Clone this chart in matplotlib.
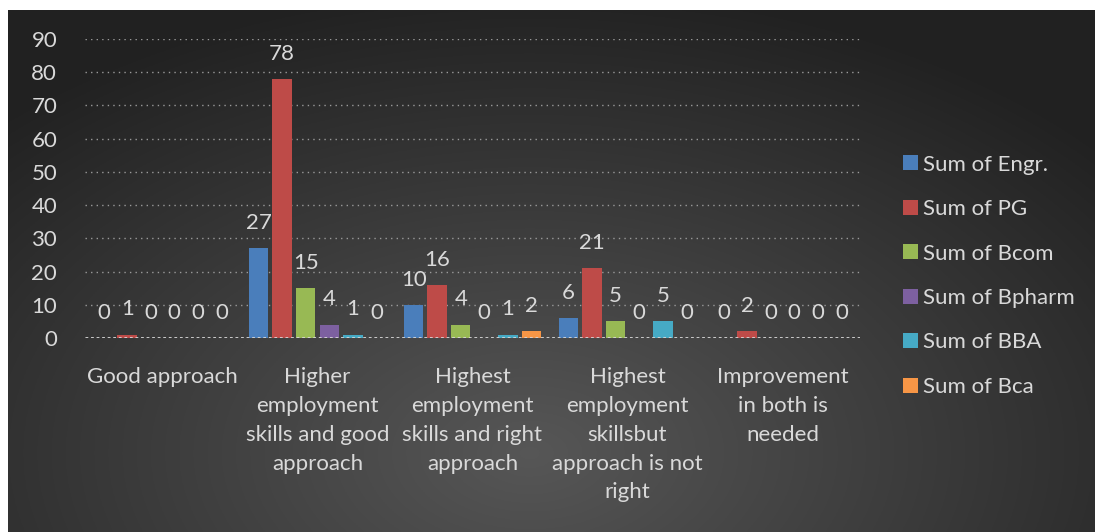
import numpy as np
import matplotlib
matplotlib.use("Agg")
import matplotlib.pyplot as plt

plt.rcParams['font.family'] = ['Lato', 'DejaVu Sans']

# data
categories = ["Good approach",
              "Higher\nemployment\nskills and good\napproach",
              "Highest\nemployment\nskills and right\napproach",
              "Highest\nemployment\nskillsbut\napproach is not\nright",
              "Improvement\nin both is\nneeded"]
series_names = ["Sum of Engr.", "Sum of PG", "Sum of Bcom", "Sum of Bpharm", "Sum of BBA", "Sum of Bca"]
engr = [0, 27, 10, 6, 0]
pg = [1, 78, 16, 21, 2]
bcom = [0, 15, 4, 5, 0]
bpharm = [0, 4, 0, 0, 0]
bba = [0, 1, 1, 5, 0]
bca = [0, 0, 2, 0, 0]
all_series = [engr, pg, bcom, bpharm, bba, bca]
colors = ["#4a7ebb", "#be4b48", "#98b954", "#7d60a0", "#46aac5", "#f79646"]

fig = plt.figure(figsize=(10.95, 5.32), dpi=100)
fig.patch.set_facecolor("white")

# dark background panel with radial gradient
bg = fig.add_axes([8 / 1095, 0, 1 - 8 / 1095, 1 - 10 / 532])
bg.set_axis_off()
yy, xx = np.mgrid[0:1:300j, 0:1:600j]
r = np.sqrt(((xx - 0.48) / 0.7) ** 2 + ((yy - 0.85) / 0.9) ** 2)
r = np.clip(r, 0, 1)
shade = 0.34 - 0.21 * r
img = np.dstack([shade, shade, shade])
bg.imshow(img, aspect="auto", extent=[0, 1, 0, 1], origin="upper")
bg.set_xlim(0, 1)
bg.set_ylim(0, 1)

ax = fig.add_axes([85 / 1095, 1 - 338 / 532, 775 / 1095, 299 / 532])
ax.patch.set_alpha(0)

fs = 16
x = np.arange(len(categories))
slot = 0.152
width = 0.125
for i, (name, vals, c) in enumerate(zip(series_names, all_series, colors)):
    pos = x + (i - 2.5) * slot
    ax.bar(pos, vals, width=width, color=c, label=name, zorder=3)
    for px, v in zip(pos, vals):
        ax.annotate(str(v), (px, v), xytext=(0, 11), textcoords="offset points",
                    ha="center", va="bottom", color="#d9d9d9", fontsize=fs)

ax.set_xlim(-0.5, 4.5)
ax.set_ylim(0, 90)
ax.set_yticks(range(0, 91, 10))
ax.yaxis.grid(True, linestyle=(0, (1, 3)), color="#9a9a9a", linewidth=1, zorder=0)
ax.axhline(0, color="#d8d8d8", linestyle=(0, (1, 1)), linewidth=2, zorder=4)
for s in ax.spines.values():
    s.set_visible(False)
ax.tick_params(axis="y", length=0, pad=20, labelcolor="#d9d9d9", labelsize=fs)
ax.set_xticks(x)
ax.set_xticklabels(categories, linespacing=1.55)
ax.tick_params(axis="x", length=0, pad=21, labelcolor="#d9d9d9", labelsize=fs)

leg = ax.legend(loc="upper left", bbox_to_anchor=(1.03, 0.68), frameon=False,
                labelcolor="#d9d9d9", fontsize=fs, handlelength=0.65, handleheight=0.65,
                handletextpad=0.25, labelspacing=1.1)

fig.savefig("out.png", dpi=100, facecolor=fig.get_facecolor())
